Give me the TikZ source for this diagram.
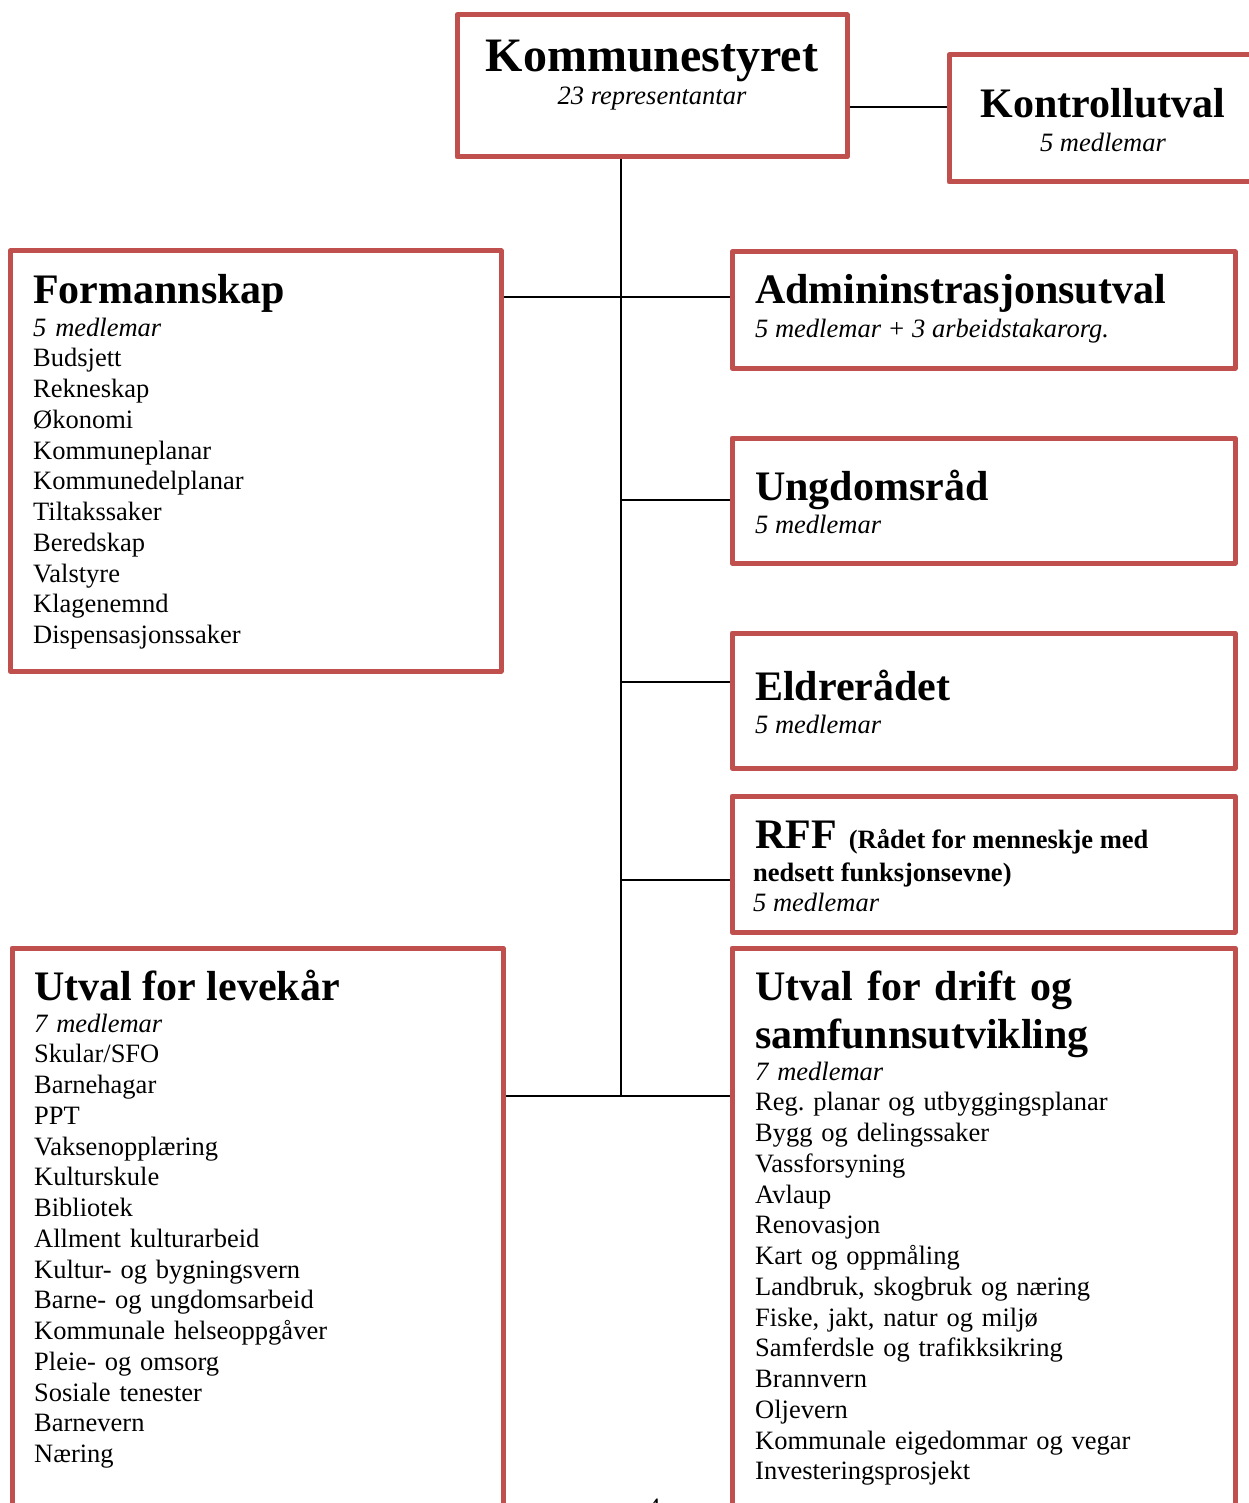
\documentclass[tikz,border=0pt]{standalone}
\usepackage{fontspec}
\setmainfont{Liberation Serif}
\frenchspacing
\definecolor{boxred}{HTML}{C0504D}
\newcommand\bodyf{\fontsize{26.5}{30.75}\selectfont}
\newcommand\titlef{\fontsize{42}{48}\selectfont\bfseries}
\newcommand\komf{\fontsize{48}{54}\selectfont\bfseries}
\begin{document}
\begin{tikzpicture}[x=1pt,y=-1pt,
  box/.style={draw=boxred, line width=5pt, line join=round, inner sep=0pt, outer sep=0pt, anchor=north west},
  conn/.style={draw=black, line width=2pt, shorten <=2.5pt, shorten >=2.5pt},
  ttl/.style={anchor=base west, inner sep=0pt, font=\titlef},
  sub/.style={anchor=base west, inner sep=0pt, font=\bodyf\itshape},
  lst/.style={anchor=base west, inner sep=0pt, font=\bodyf, text width=460pt, align=left}]
\useasboundingbox (0,0) rectangle (1248,1503);
% boxes
\node[box, minimum width=390pt, minimum height=142pt] (kom) at (457,15) {};
\node[box, minimum width=320pt, minimum height=127pt] (kontroll) at (949,55) {};
\node[box, minimum width=491pt, minimum height=420pt] (form) at (10,251) {};
\node[box, minimum width=503pt, minimum height=116pt] (admin) at (732,252) {};
\node[box, minimum width=503pt, minimum height=125pt] (ungdom) at (732,438) {};
\node[box, minimum width=503pt, minimum height=135pt] (eldre) at (732,633) {};
\node[box, minimum width=503pt, minimum height=136pt] (rff) at (732,796) {};
\node[box, minimum width=491pt, minimum height=600pt] (levekar) at (12,948) {};
\node[box, minimum width=503pt, minimum height=600pt] (drift) at (732,948) {};
% connectors
\coordinate (spine) at (621,1096);
\coordinate (jK) at (0,107);
\coordinate (jA) at (621,297);
\coordinate (jU) at (621,500);
\coordinate (jE) at (621,682);
\coordinate (jR) at (621,880);
\draw[conn, shorten >=0pt] (kom.south -| spine) -- (spine);
\draw[conn] (kom.east |- jK) -- (kontroll.west |- jK);
\draw[conn] (form.east |- jA) -- (admin.west |- jA);
\draw[conn, shorten <=0pt] (jU) -- (ungdom.west |- jU);
\draw[conn, shorten <=0pt] (jE) -- (eldre.west |- jE);
\draw[conn, shorten <=0pt] (jR) -- (rff.west |- jR);
\draw[conn] (levekar.east |- spine) -- (drift.west |- spine);
% texts
\node[anchor=base, inner sep=0pt, font=\komf] (komt) at (652,72) {Kommunestyret};
\node[anchor=base, inner sep=0pt, font=\bodyf\itshape] (koms) at (652,105) {23 representantar};
\node[anchor=base, inner sep=0pt, font=\titlef] (kontt) at (1103,118) {Kontrollutval};
\node[anchor=base, inner sep=0pt, font=\bodyf\itshape] (konts) at (1103,152) {5 medlemar};

\node[ttl] (formt) at (33,304) {Formannskap};
\node[lst] (forml) at (33,336) {\textit{5 medlemar}\\Budsjett\\Rekneskap\\Økonomi\\Kommuneplanar\\Kommunedelplanar\\Tiltakssaker\\Beredskap\\Valstyre\\Klagenemnd\\Dispensasjonssaker};

\node[ttl] (admint) at (755,304) {Admininstrasjonsutval};
\node[sub] (admins) at (755,337) {5 medlemar + 3 arbeidstakarorg.};

\node[ttl] (ungt) at (755,500) {Ungdomsråd};
\node[sub] (ungs) at (755,533) {5 medlemar};

\node[ttl] (eldt) at (755,700) {Eldrerådet};
\node[sub] (elds) at (755,733) {5 medlemar};

\node[anchor=base west, inner sep=0pt] (rfft) at (755,848) {\titlef RFF\hspace{12pt}{\bodyf\bfseries (Rådet for menneskje med}};
\node[anchor=base west, inner sep=0pt, font=\bodyf\bfseries] (rff2) at (753,881) {nedsett funksjonsevne)};
\node[sub] (rffs) at (753,911) {5 medlemar};

\node[ttl] (levt) at (34,1000) {Utval for levekår};
\node[lst] (levl) at (34,1032) {\textit{7 medlemar}\\Skular/SFO\\Barnehagar\\PPT\\Vaksenopplæring\\Kulturskule\\Bibliotek\\Allment kulturarbeid\\Kultur- og bygningsvern\\Barne- og ungdomsarbeid\\Kommunale helseoppgåver\\Pleie- og omsorg\\Sosiale tenester\\Barnevern\\Næring};

\node[ttl, text width=460pt, align=left] (drit) at (755,1000) {Utval for drift og\\samfunnsutvikling};
\node[lst] (dril) at (755,1080) {\textit{7 medlemar}\\Reg. planar og utbyggingsplanar\\Bygg og delingssaker\\Vassforsyning\\Avlaup\\Renovasjon\\Kart og oppmåling\\Landbruk, skogbruk og næring\\Fiske, jakt, natur og miljø\\Samferdsle og trafikksikring\\Brannvern\\Oljevern\\Kommunale eigedommar og vegar\\Investeringsprosjekt};

\node[anchor=base, inner sep=0pt, font=\bodyf] (pagenum) at (654,1516) {4};
\end{tikzpicture}
\end{document}
